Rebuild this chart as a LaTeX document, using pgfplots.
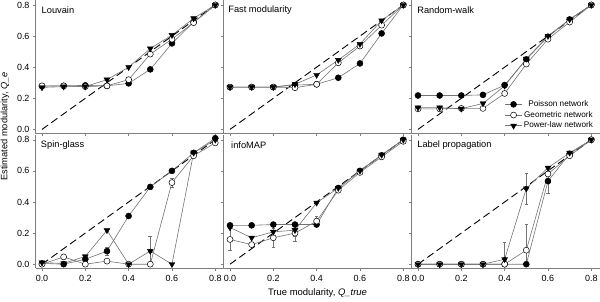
\documentclass[border=0pt]{standalone}
\usepackage{pgfplots}
\pgfplotsset{compat=1.18}
\usepgfplotslibrary{groupplots}
\usetikzlibrary{calc}
\usepackage{fontspec}
\setmainfont{Liberation Sans}
\definecolor{axgray}{gray}{0.5}
\definecolor{lngray}{gray}{0.45}
\pgfplotsset{
  poi/.style={color=lngray, line width=0.6bp, mark=*, mark size=3bp, mark options={draw=black, fill=black, solid, line width=0.5bp}},
  geo/.style={color=lngray, line width=0.6bp, mark=*, mark size=3bp, mark options={draw=black, fill=white, solid, line width=0.5bp}},
  pow/.style={color=lngray, line width=0.6bp, mark=triangle*, mark size=3.4bp, mark options={draw=black, fill=black, solid, rotate=180, line width=0.4bp}},
  diag/.style={black, line width=0.9bp, dash pattern=on 7.5bp off 4bp, no marks, forget plot},
  eb/.style={only marks, mark=none, forget plot, error bars/.cd, y dir=both, y explicit,
    error bar style={lngray, line width=0.5bp, solid},
    error mark options={lngray, mark size=1.8bp, line width=0.5bp, rotate=90}},
}
\tikzset{ttl/.style={anchor=west, font=\fontsize{9.3}{11}\selectfont, inner sep=0pt}}
\begin{document}
\begin{tikzpicture}
\begin{groupplot}[
  group style={group size=3 by 2, horizontal sep=0pt, vertical sep=1.5bp,
    x descriptions at=edge bottom, y descriptions at=edge left},
  width=188bp, height=133.3bp, scale only axis,
  xmin=-0.03, xmax=0.838, ymin=-0.027, ymax=0.83,
  axis lines=left, axis line style={axgray, line width=0.6bp, -},
  xtick={0,0.2,0.4,0.6,0.8}, ytick={0,0.2,0.4,0.6,0.8},
  tick style={axgray, line width=0.5bp}, tick align=outside, major tick length=2.5bp,
  tick label style={font=\fontsize{9}{10}\selectfont},
  xticklabel style={yshift=-1bp},
  /pgf/number format/fixed, /pgf/number format/fixed zerofill,
  /pgf/number format/precision=1, /pgf/number format/assume math mode=true,
]
% ---------- Louvain
\nextgroupplot
\node[ttl] at (rel axis cs:0.032,0.925) {Louvain};
\addplot[diag] coordinates {(0,0) (0.8,0.8)};
\addplot[poi] coordinates {(0,0.278)(0.1,0.28)(0.2,0.283)(0.3,0.28)(0.4,0.296)(0.5,0.386)(0.6,0.553)(0.7,0.69)(0.8,0.80)};
\addplot[geo] coordinates {(0,0.28)(0.1,0.28)(0.2,0.275)(0.3,0.28)(0.4,0.32)(0.5,0.484)(0.6,0.58)(0.7,0.686)(0.8,0.80)};
\addplot[pow] coordinates {(0,0.27)(0.1,0.275)(0.2,0.275)(0.3,0.32)(0.4,0.40)(0.5,0.52)(0.6,0.606)(0.7,0.714)(0.8,0.80)};
% ---------- Fast modularity
\nextgroupplot
\node[ttl] at (rel axis cs:0.025,0.925) {Fast modularity};
\addplot[diag] coordinates {(0,0) (0.8,0.8)};
\addplot[poi] coordinates {(0,0.272)(0.1,0.272)(0.2,0.272)(0.3,0.285)(0.4,0.29)(0.5,0.332)(0.6,0.424)(0.7,0.617)(0.8,0.80)};
\addplot[geo] coordinates {(0,0.272)(0.1,0.272)(0.2,0.272)(0.3,0.268)(0.4,0.29)(0.5,0.428)(0.6,0.536)(0.7,0.67)(0.8,0.80)};
\addplot[pow] coordinates {(0,0.272)(0.1,0.272)(0.2,0.272)(0.3,0.29)(0.4,0.35)(0.5,0.446)(0.6,0.549)(0.7,0.70)(0.8,0.80)};
% ---------- Random-walk
\nextgroupplot[legend style={at={(0.495,0.26)}, anchor=north west, draw=none, fill=none,
   font=\fontsize{8.2}{9}\selectfont, row sep=0.3bp, inner sep=0pt,
   nodes={inner sep=1.5bp}}]
\node[ttl] at (rel axis cs:0.03,0.925) {Random-walk};
\addplot[diag] coordinates {(0,0) (0.8,0.8)};
\addplot[poi] coordinates {(0,0.218)(0.1,0.218)(0.2,0.218)(0.3,0.222)(0.4,0.285)(0.5,0.45)(0.6,0.596)(0.7,0.707)(0.8,0.80)};
\addlegendentry{Poisson network}
\addplot[geo] coordinates {(0,0.132)(0.1,0.132)(0.2,0.135)(0.3,0.135)(0.4,0.231)(0.5,0.42)(0.6,0.58)(0.7,0.69)(0.8,0.80)};
\addlegendentry{Geometric network}
\addplot[pow] coordinates {(0,0.14)(0.1,0.14)(0.2,0.133)(0.3,0.167)(0.4,0.28)(0.5,0.454)(0.6,0.60)(0.7,0.707)(0.8,0.80)};
\addlegendentry{Power-law network}
% ---------- Spin-glass
\nextgroupplot
\node[ttl] at (rel axis cs:0.028,0.925) {Spin-glass};
\addplot[diag] coordinates {(0,0) (0.8,0.8)};
\addplot[eb] coordinates {(0.3,0.084) +- (0,0.025) (0.5,0.085) +- (0,0.097) (0.6,0.525) +- (0,0.03)};
\addplot[poi] coordinates {(0,0.005)(0.1,0)(0.2,0.032)(0.3,0.084)(0.4,0.31)(0.5,0.497)(0.6,0.60)(0.7,0.716)(0.8,0.81)};
\addplot[geo] coordinates {(0,0)(0.1,0.047)(0.2,0)(0.3,0.02)(0.4,0)(0.5,0)(0.6,0.525)(0.7,0.697)(0.8,0.78)};
\addplot[pow] coordinates {(0,0.01)(0.1,0.005)(0.2,0.05)(0.3,0.218)(0.4,0)(0.5,0.085)(0.6,0)(0.7,0.716)(0.8,0.80)};
% ---------- infoMAP
\nextgroupplot[xlabel={True modularity, \textit{Q\_true}},
  xlabel style={font=\fontsize{9.5}{11}\selectfont, yshift=0bp}]
\node[ttl] at (rel axis cs:0.04,0.925) {infoMAP};
\addplot[diag] coordinates {(0,0) (0.8,0.8)};
\addplot[eb] coordinates {(0,0.159) +- (0,0.07) (0.2,0.17) +- (0,0.06) (0.3,0.20) +- (0,0.05) (0.3,0.219) +- (0,0.04) (0.4,0.277) +- (0,0.03)};
\addplot[poi] coordinates {(0,0.25)(0.1,0.25)(0.2,0.255)(0.3,0.255)(0.4,0.255)(0.5,0.49)(0.6,0.60)(0.7,0.70)(0.8,0.80)};
\addplot[geo] coordinates {(0,0.159)(0.1,0.126)(0.2,0.17)(0.3,0.20)(0.4,0.277)(0.5,0.476)(0.6,0.59)(0.7,0.69)(0.8,0.79)};
\addplot[pow] coordinates {(0,0.236)(0.1,0.17)(0.2,0.208)(0.3,0.219)(0.4,0.395)(0.5,0.49)(0.6,0.60)(0.7,0.703)(0.8,0.80)};
% ---------- Label propagation
\nextgroupplot
\node[ttl] at (rel axis cs:0.03,0.925) {Label propagation};
\addplot[diag] coordinates {(0,0) (0.8,0.8)};
\addplot[eb] coordinates {(0.4,0.032) += (0,0.108) -= (0,0) (0.5,0.487) +- (0,0.1) (0.5,0.09) += (0,0.165) -= (0,0.09) (0.6,0.534) +- (0,0.075)};
\addplot[poi] coordinates {(0,0)(0.1,0)(0.2,0)(0.3,0)(0.4,0)(0.5,0)(0.6,0.534)(0.7,0.71)(0.8,0.80)};
\addplot[geo] coordinates {(0,0)(0.1,0)(0.2,0)(0.3,0)(0.4,0)(0.5,0.09)(0.6,0.58)(0.7,0.697)(0.8,0.80)};
\addplot[pow] coordinates {(0,0)(0.1,0)(0.2,0)(0.3,0)(0.4,0.032)(0.5,0.487)(0.6,0.62)(0.7,0.716)(0.8,0.80)};
\end{groupplot}
\node[rotate=90, font=\fontsize{9.3}{11}\selectfont, anchor=center]
  at ($(group c1r1.south west)!0.5!(group c1r2.north west)+(-30.5bp,8bp)$) {Estimated modularity, \textit{Q\_e}};
\pgfresetboundingbox
\path[use as bounding box] ($(group c1r1.north west)+(-35.5bp,0.3bp)$) rectangle ($(group c1r1.north west)+(564.5bp,-301.7bp)$);
\end{tikzpicture}
\end{document}
